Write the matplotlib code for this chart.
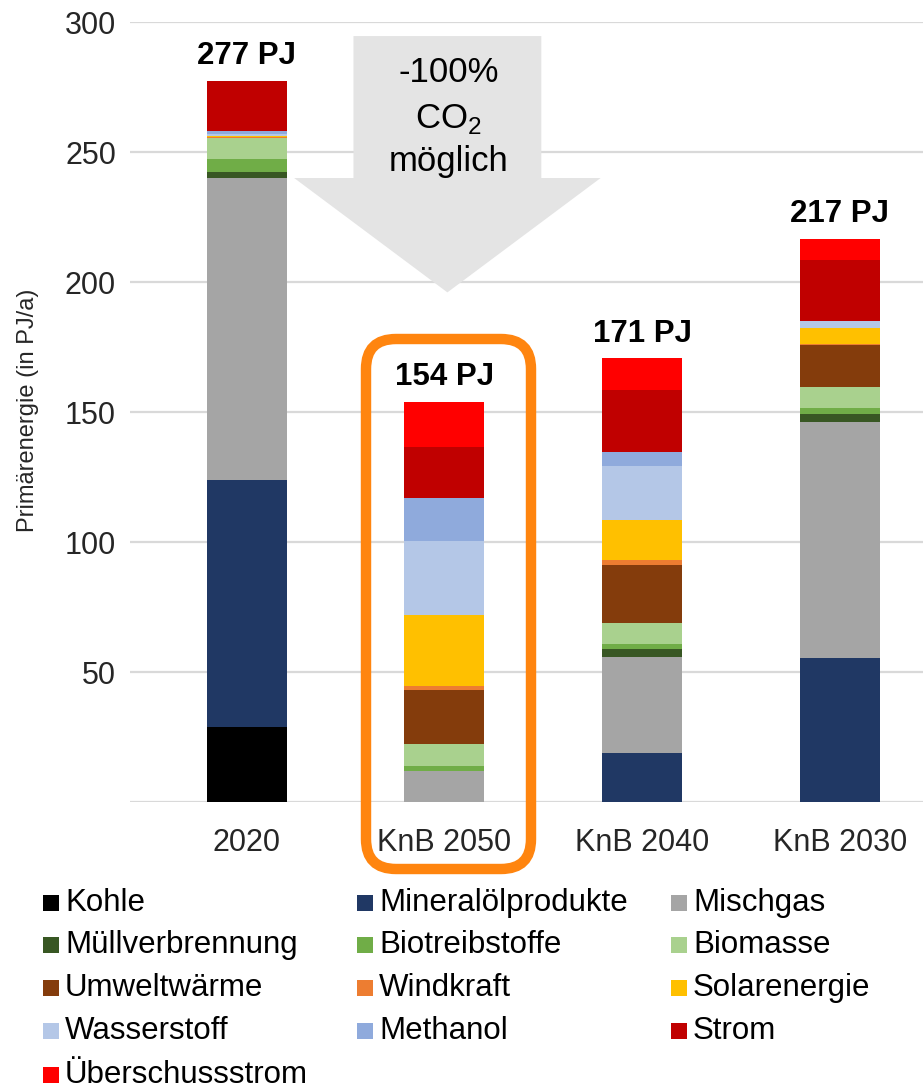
import numpy as np
import matplotlib
matplotlib.use('Agg')
import matplotlib.pyplot as plt
from matplotlib.patches import Polygon, FancyBboxPatch, Rectangle
from matplotlib.transforms import IdentityTransform

plt.rcParams['font.family'] = ['Liberation Sans', 'DejaVu Sans']
plt.rcParams['mathtext.fontset'] = 'custom'
plt.rcParams['mathtext.rm'] = 'Liberation Sans'

# data (PJ/a)
szenarien = ['2020', 'KnB 2050', 'KnB 2040', 'KnB 2030']
totals = [277, 154, 171, 217]

traeger = ['Kohle', 'Mineralölprodukte', 'Mischgas', 'Müllverbrennung', 'Biotreibstoffe',
           'Biomasse', 'Umweltwärme', 'Windkraft', 'Solarenergie', 'Wasserstoff',
           'Methanol', 'Strom', 'Überschussstrom']
farben = ['#000000', '#203864', '#A5A5A5', '#385723', '#70AD47', '#A9D18E', '#843C0C',
          '#ED7D31', '#FFC000', '#B4C7E7', '#8FAADC', '#C00000', '#FF0000']

kohle = [29, 0, 0, 0]
mineraloel = [95, 0, 18.7, 55.3]
mischgas = [116, 12, 37.2, 91]
muell = [2.3, 0, 2.8, 2.8]
biotreib = [5, 2, 1.9, 2.3]
biomasse = [8.2, 8.5, 8.3, 8.1]
umwelt = [0, 20.4, 22.2, 16.3]
wind = [0.3, 1.7, 1.9, 0.4]
solar = [0.4, 27.2, 15.4, 6]
wasserstoff = [0.7, 28.6, 20.8, 2.8]
methanol = [1.0, 16.7, 5.5, 0]
strom = [19.5, 19.6, 23.7, 23.5]
ueberschuss = [0, 17.2, 12.2, 8]

werte = [kohle, mineraloel, mischgas, muell, biotreib, biomasse, umwelt, wind,
         solar, wasserstoff, methanol, strom, ueberschuss]

W, H = 923, 1090
fig = plt.figure(figsize=(W / 100, H / 100), dpi=100)
ax = fig.add_axes([130 / W, 288 / H, 793 / W, 780 / H])

x = np.arange(len(szenarien))
bottom = np.zeros(len(szenarien))
for name, vals, col in zip(traeger, werte, farben):
    ax.bar(x, vals, 0.405, bottom=bottom, color=col, label=name, zorder=3)
    bottom += np.array(vals)

# total labels above the bars
for xi, top, tot in zip(x, bottom, totals):
    ax.annotate(f'{tot} PJ', (xi, top), xytext=(0, 7), textcoords='offset points',
                ha='center', va='bottom', fontsize=22.5, fontweight='bold')

ax.set_xlim(-0.59, 3.42)
ax.set_ylim(0, 300)
ax.set_yticks(range(0, 301, 50))
ax.set_yticklabels([''] + [str(v) for v in range(50, 301, 50)])
ax.set_xticks(x)
ax.set_xticklabels(szenarien)
ax.tick_params(axis='y', length=0, pad=10, labelsize=22, labelcolor='#262626')
ax.tick_params(axis='x', length=0, pad=19, labelsize=22, labelcolor='#262626')
ax.grid(axis='y', color='#D9D9D9', linewidth=1.6, zorder=0)
for s in ax.spines.values():
    s.set_visible(False)

fig.text(28 / W, 1 - 410 / H, 'Primärenergie (in PJ/a)', rotation=90,
         ha='center', va='center', fontsize=17, color='#262626')

# big grey arrow
pfeil = Polygon([(0.54, 294.6), (1.49, 294.6), (1.49, 240), (1.79, 240), (1.015, 196),
                 (0.24, 240), (0.54, 240)], closed=True, facecolor='#E4E4E4',
                edgecolor='none', zorder=2, clip_on=False)
ax.add_patch(pfeil)
ax.text(1.02, 280.5, '-100%', ha='center', va='center', fontsize=25, zorder=4)
ax.text(1.02, 262.5, r'CO$_\mathregular{2}$', ha='center', va='center', fontsize=25, zorder=4)
ax.text(1.02, 246.5, 'möglich', ha='center', va='center', fontsize=25, zorder=4)

# orange frame around KnB 2050
rahmen = FancyBboxPatch((366, H - 869), 165, 530, boxstyle='round,pad=0,rounding_size=30',
                        transform=IdentityTransform(), fill=False, edgecolor='#FF850F',
                        linewidth=7.5, zorder=5)
fig.patches.append(rahmen)

# legend, three columns filled row-wise
col_x = [43, 357, 671]
row_y = [903, 945, 988, 1031, 1075]
for i, (name, col) in enumerate(zip(traeger, farben)):
    r, c = divmod(i, 3)
    cx, cy = col_x[c], row_y[r]
    fig.patches.append(Rectangle((cx / W, 1 - (cy + 8) / H), 16 / W, 16 / H,
                                 transform=fig.transFigure, facecolor=col, edgecolor='none'))
    fig.text((cx + 22) / W, 1 - cy / H, name, ha='left', va='center', fontsize=22.5)

fig.savefig('out.png', dpi=100)
